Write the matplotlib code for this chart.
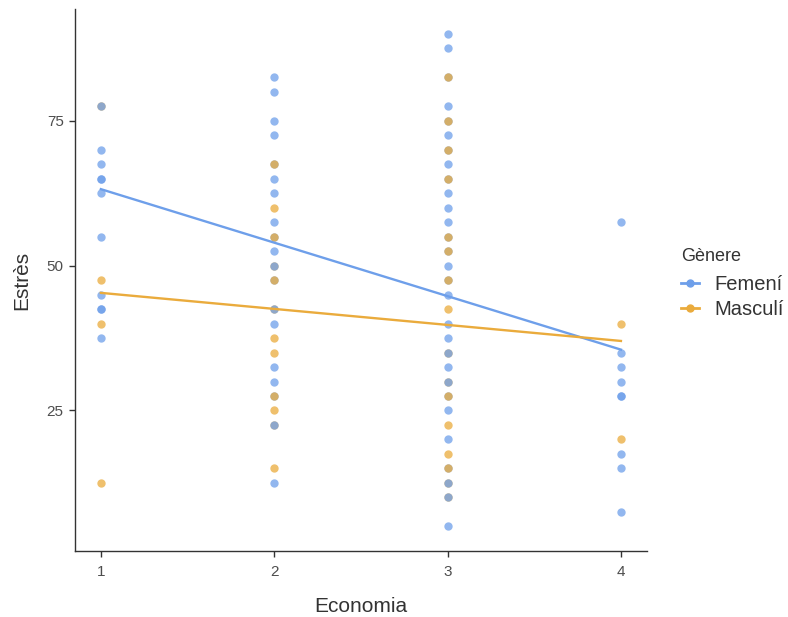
import matplotlib
matplotlib.use('Agg')
import matplotlib.pyplot as plt
import numpy as np
from matplotlib.lines import Line2D

plt.rcParams['font.family'] = ['Liberation Sans', 'DejaVu Sans']

# --- dades llegides del gràfic ---
# punts femení que queden per sota dels masculins (es dibuixen primer)
fem_back_x = [2, 2, 2, 2, 3, 3, 3, 3, 3, 3, 3, 3, 3]
fem_back_y = [67.5, 55, 47.5, 27.5, 82.5, 75, 70, 65, 55, 52.5, 47.5, 27.5, 15]

masc_x = [1] * 4 + [2] * 12 + [3] * 16 + [4] * 2
masc_y = [77.5, 47.5, 40, 12.5,
          67.5, 60, 55, 50, 47.5, 42.5, 37.5, 35, 27.5, 25, 22.5, 15,
          82.5, 75, 70, 65, 55, 52.5, 47.5, 42.5, 35, 30, 27.5, 22.5, 17.5, 15, 12.5, 10,
          40, 20]

# resta de punts femení (per sobre)
fem_x = [1] * 11 + [2] * 15 + [3] * 20 + [4] * 9
fem_y = [77.5, 70, 67.5, 65, 65, 62.5, 55, 45, 42.5, 42.5, 37.5,
         82.5, 80, 75, 72.5, 65, 62.5, 57.5, 52.5, 50, 42.5, 40, 32.5, 30, 22.5, 12.5,
         90, 87.5, 77.5, 72.5, 67.5, 62.5, 60, 57.5, 50, 45, 40, 37.5, 35, 32.5, 30, 25, 20, 12.5, 10, 5,
         57.5, 35, 32.5, 30, 27.5, 27.5, 17.5, 15, 7.5]

# rectes de regressió (extrems)
fit_x = [1, 4]
fem_fit = [63.2, 35.5]
masc_fit = [45.3, 37.0]

blue = '#6E9FEA'
orange = '#EAAB3C'

fig = plt.figure(figsize=(7.88, 6.17), dpi=100)
ax = fig.add_axes([0.095, 0.107, 0.726, 0.878])

ax.scatter(fem_back_x, fem_back_y, s=36, color=blue, alpha=0.75, linewidths=0)
ax.scatter(masc_x, masc_y, s=36, color=orange, alpha=0.75, linewidths=0)
ax.scatter(fem_x, fem_y, s=36, color=blue, alpha=0.75, linewidths=0)

ax.plot(fit_x, fem_fit, color=blue, lw=1.7)
ax.plot(fit_x, masc_fit, color=orange, lw=1.7)

ax.set_xlim(0.85, 4.15)
ax.set_ylim(0.75, 94.25)
ax.set_xticks([1, 2, 3, 4])
ax.set_yticks([25, 50, 75])

for side in ['top', 'right']:
    ax.spines[side].set_visible(False)
for side in ['left', 'bottom']:
    ax.spines[side].set_color('#333333')
    ax.spines[side].set_linewidth(1.0)
ax.tick_params(colors='#333333', labelcolor='#4D4D4D', labelsize=11, length=4, width=1)
ax.tick_params(axis='x', pad=6)
ax.tick_params(axis='y', pad=4)

ax.set_xlabel('Economia', fontsize=15, color='#333333', labelpad=13)
ax.set_ylabel('Estrès', fontsize=15, color='#333333', labelpad=11)

handles = [Line2D([], [], color=blue, lw=2, marker='o', markersize=5),
           Line2D([], [], color=orange, lw=2, marker='o', markersize=5)]
leg = fig.legend(handles, ['Femení', 'Masculí'], title='Gènere',
                 loc='upper left', bbox_to_anchor=(0.864, 0.598), frameon=False,
                 fontsize=14.5, title_fontsize=13, handlelength=0.9,
                 handletextpad=0.75, labelspacing=0.3, alignment='left',
                 borderpad=0, borderaxespad=0)
leg._legend_box.sep = 7
leg.get_title().set_color('#333333')
for t in leg.get_texts():
    t.set_color('#333333')

fig.savefig('out.png', dpi=100)
